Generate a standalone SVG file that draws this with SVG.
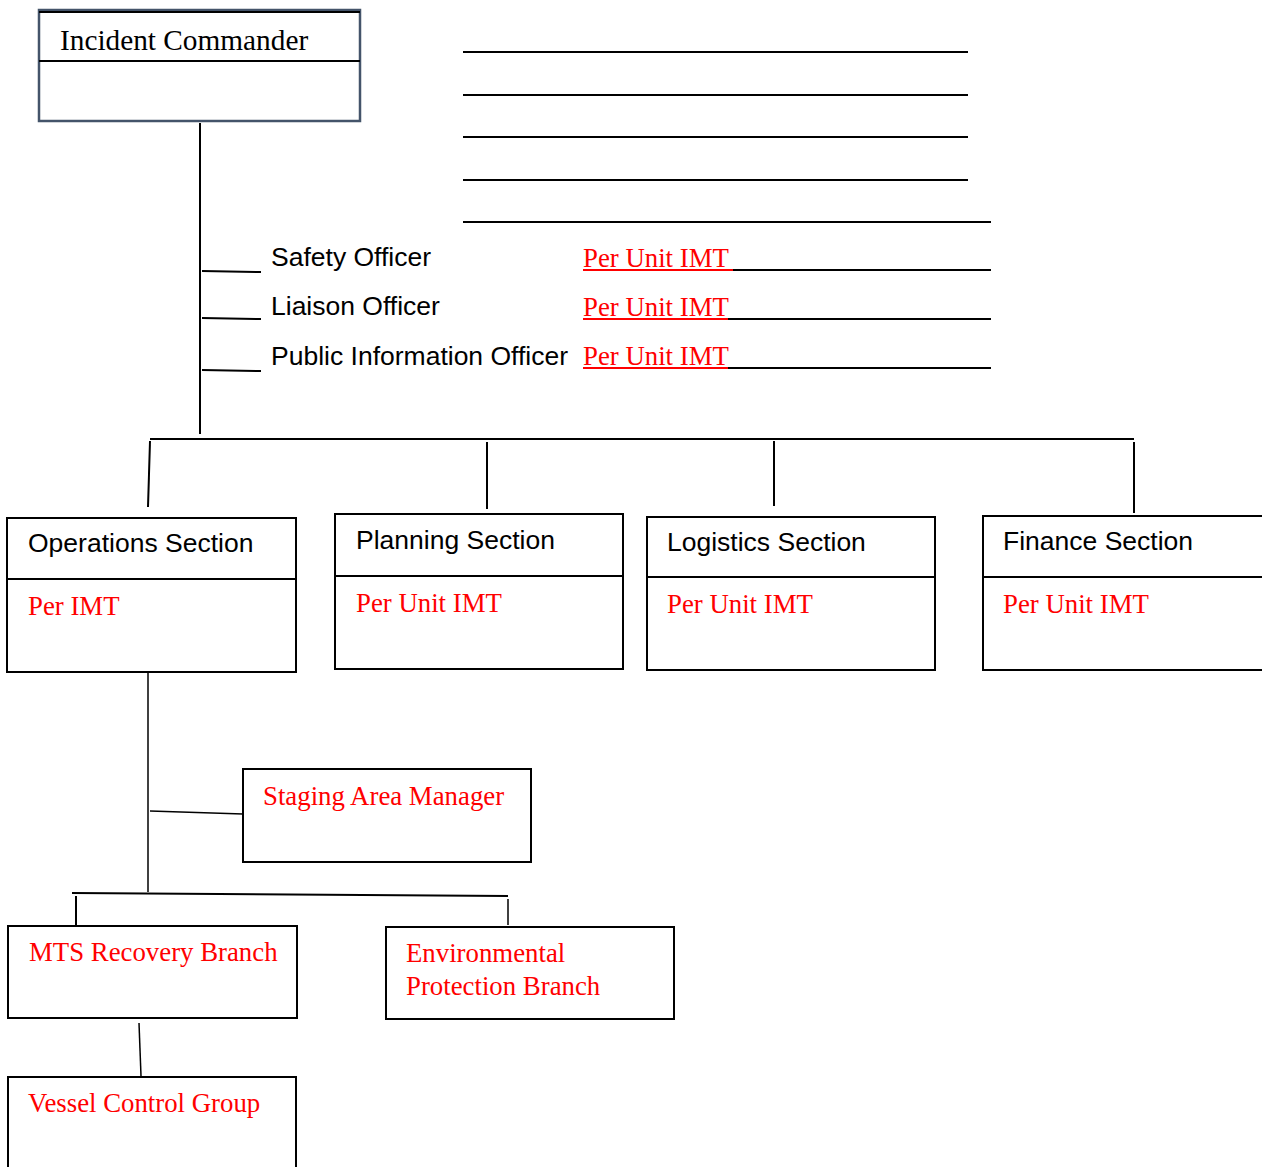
<svg xmlns="http://www.w3.org/2000/svg" width="1262" height="1167" viewBox="0 0 1262 1167">
<style>
.box{fill:#fff;stroke:#000;stroke-width:2}
.ln{stroke:#000;stroke-width:2;fill:none}
.thin{stroke:#000;stroke-width:1.5;fill:none}
.sans{font-family:"Liberation Sans",Arial,sans-serif;font-size:26.5px;fill:#000}
.serif{font-family:"Liberation Serif","Times New Roman",serif;font-size:29.3px;fill:#000}
.red{font-family:"Liberation Serif","Times New Roman",serif;font-size:26.8px;fill:#ff0000}
.redline{stroke:#ff0000;stroke-width:2}
</style>
<rect width="1262" height="1167" fill="#fff"/>
<g id="connectors">
<line class="ln" x1="200" y1="123" x2="200" y2="434"/>
<line class="ln" x1="202" y1="271" x2="261" y2="272"/>
<line class="ln" x1="202" y1="318" x2="261" y2="319"/>
<line class="ln" x1="202" y1="370" x2="261" y2="371"/>
<line class="ln" x1="150" y1="439" x2="1134" y2="439"/>
<line class="ln" x1="150" y1="441" x2="148" y2="507"/>
<line class="ln" x1="487" y1="442" x2="487" y2="509"/>
<line class="ln" x1="774" y1="441" x2="774" y2="506"/>
<line class="ln" x1="1134" y1="442" x2="1134" y2="513"/>
<line class="thin" x1="148" y1="673" x2="148" y2="892"/>
<line class="thin" x1="150" y1="811" x2="243" y2="814"/>
<line class="ln" x1="72" y1="893" x2="508" y2="896"/>
<line class="ln" x1="76" y1="896" x2="76" y2="925"/>
<line class="thin" x1="508" y1="899" x2="508" y2="925"/>
<line class="thin" x1="139" y1="1023" x2="141" y2="1076"/>
</g>
<g id="blank-lines">
<line class="ln" x1="463" y1="52" x2="968" y2="52"/>
<line class="ln" x1="463" y1="95" x2="968" y2="95"/>
<line class="ln" x1="463" y1="137" x2="968" y2="137"/>
<line class="ln" x1="463" y1="180" x2="968" y2="180"/>
<line class="ln" x1="463" y1="222" x2="991" y2="222"/>
</g>
<g id="incident-commander">
<rect x="39" y="10" width="321" height="111" fill="#fff" stroke="#44546a" stroke-width="2.5"/>
<line class="ln" x1="39" y1="12" x2="360" y2="12"/>
<line class="ln" x1="39" y1="61" x2="360" y2="61"/>
<text class="serif" x="60" y="50">Incident Commander</text>
</g>
<g id="safety-officer">
<text class="sans" x="271" y="266">Safety Officer</text>
<text class="red" x="583" y="267">Per Unit IMT</text>
<line class="redline" x1="583" y1="270" x2="733" y2="270"/>
<line class="ln" x1="733" y1="270" x2="991" y2="270"/>
</g>
<g id="liaison-officer">
<text class="sans" x="271" y="315">Liaison Officer</text>
<text class="red" x="583" y="316">Per Unit IMT</text>
<line class="redline" x1="583" y1="319" x2="728" y2="319"/>
<line class="ln" x1="728" y1="319" x2="991" y2="319"/>
</g>
<g id="public-information-officer">
<text class="sans" x="271" y="365">Public Information Officer</text>
<text class="red" x="583" y="365">Per Unit IMT</text>
<line class="redline" x1="583" y1="368" x2="728" y2="368"/>
<line class="ln" x1="728" y1="368" x2="991" y2="368"/>
</g>
<g id="operations-section">
<rect class="box" x="7" y="518" width="289" height="154"/>
<line class="ln" x1="7" y1="579" x2="296" y2="579"/>
<text class="sans" x="28" y="552">Operations Section</text>
<text class="red" x="28" y="615">Per IMT</text>
</g>
<g id="planning-section">
<rect class="box" x="335" y="514" width="288" height="155"/>
<line class="ln" x1="335" y1="576" x2="623" y2="576"/>
<text class="sans" x="356" y="549">Planning Section</text>
<text class="red" x="356" y="612">Per Unit IMT</text>
</g>
<g id="logistics-section">
<rect class="box" x="647" y="517" width="288" height="153"/>
<line class="ln" x1="647" y1="577" x2="935" y2="577"/>
<text class="sans" x="667" y="551">Logistics Section</text>
<text class="red" x="667" y="613">Per Unit IMT</text>
</g>
<g id="finance-section">
<rect class="box" x="983" y="516" width="285" height="154"/>
<line class="ln" x1="983" y1="577" x2="1262" y2="577"/>
<text class="sans" x="1003" y="550">Finance Section</text>
<text class="red" x="1003" y="613">Per Unit IMT</text>
</g>
<g id="staging-area-manager">
<rect class="box" x="243" y="769" width="288" height="93"/>
<text class="red" x="263" y="805">Staging Area Manager</text>
</g>
<g id="mts-recovery-branch">
<rect class="box" x="8" y="926" width="289" height="92"/>
<text class="red" x="29" y="961">MTS Recovery Branch</text>
</g>
<g id="environmental-protection-branch">
<rect class="box" x="386" y="927" width="288" height="92"/>
<text class="red" x="406" y="962">Environmental</text>
<text class="red" x="406" y="995">Protection Branch</text>
</g>
<g id="vessel-control-group">
<rect class="box" x="8" y="1077" width="288" height="100"/>
<text class="red" x="28" y="1112">Vessel Control Group</text>
</g>
</svg>
